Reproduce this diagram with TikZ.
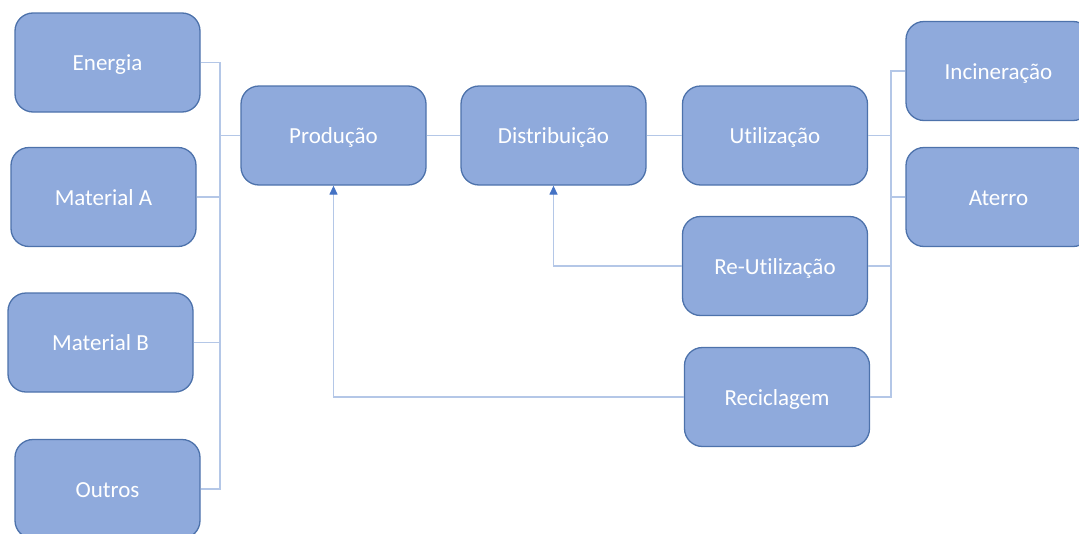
\documentclass[tikz,border=0pt]{standalone}
\usepackage{fontspec}
\setmainfont[Ligatures=NoCommon]{Carlito}
\usetikzlibrary{arrows.meta}
\definecolor{boxfill}{HTML}{8FAADC}
\definecolor{boxline}{HTML}{4D72AB}
\definecolor{linkline}{HTML}{B4C7E7}
\definecolor{tipblue}{HTML}{4472C4}
\begin{document}
\begin{tikzpicture}[x=1pt,y=-1pt,
  block/.style={draw=boxline, line width=1.3pt, fill=boxfill, rounded corners=18pt,
    minimum width=185pt, minimum height=99pt, inner sep=0pt, text=white,
    text height=20pt, text depth=4pt,
    font=\fontsize{23}{27}\selectfont},
  link/.style={draw=linkline, line width=1.3pt},
  feed/.style={link, -{Triangle[width=8pt,length=9pt,color=tipblue]}}]
\useasboundingbox (0,0) rectangle (1079,533);
\begin{scope}
\clip (0,0) rectangle (1079,533);
% inputs
\node[block] (energia) at (107.5,62.5) {Energia};
\node[block] (matA) at (103.5,197) {Material A};
\node[block] (matB) at (100.5,342.5) {Material B};
\node[block] (outros) at (107.5,489) {Outros};
% main chain
\node[block] (prod) at (333.5,135.5) {Produção};
\node[block] (dist) at (553.5,135.5) {Distribuição};
\node[block] (util) at (775,135.5) {Utilização};
\node[block] (reuse) at (775,266) {Re-Utilização};
\node[block] (recic) at (777,397) {Reciclagem};
% end of life
\node[block] (incin) at (998.5,71) {Incineração};
\node[block] (aterro) at (998.5,197) {Aterro};

% collector bus on the left
\coordinate (lbtop) at (220,62.5);
\coordinate (lbbot) at (220,489);
\draw[link] (energia.east) -- (lbtop) -- (lbbot) -- (outros.east);
\draw[link] (matA.east) -- (matA.east -| lbtop);
\draw[link] (matB.east) -- (matB.east -| lbtop);
\draw[link] (prod.west) -- (prod.west -| lbtop);

% chain links
\draw[link] (prod.east) -- (dist.west);
\draw[link] (dist.east) -- (util.west);

% bus on the right
\coordinate (rbtop) at (891,71);
\coordinate (rbbot) at (891,397);
\draw[link] (incin.west) -- (rbtop) -- (rbbot) -- (recic.east);
\draw[link] (aterro.west) -- (aterro.west -| rbtop);
\draw[link] (util.east) -- (util.east -| rbtop);
\draw[link] (reuse.east) -- (reuse.east -| rbtop);

% feedback loops
\draw[feed] (reuse.west) -| (dist.south);
\draw[feed] (recic.west) -| (prod.south);
\end{scope}
\end{tikzpicture}
\end{document}
